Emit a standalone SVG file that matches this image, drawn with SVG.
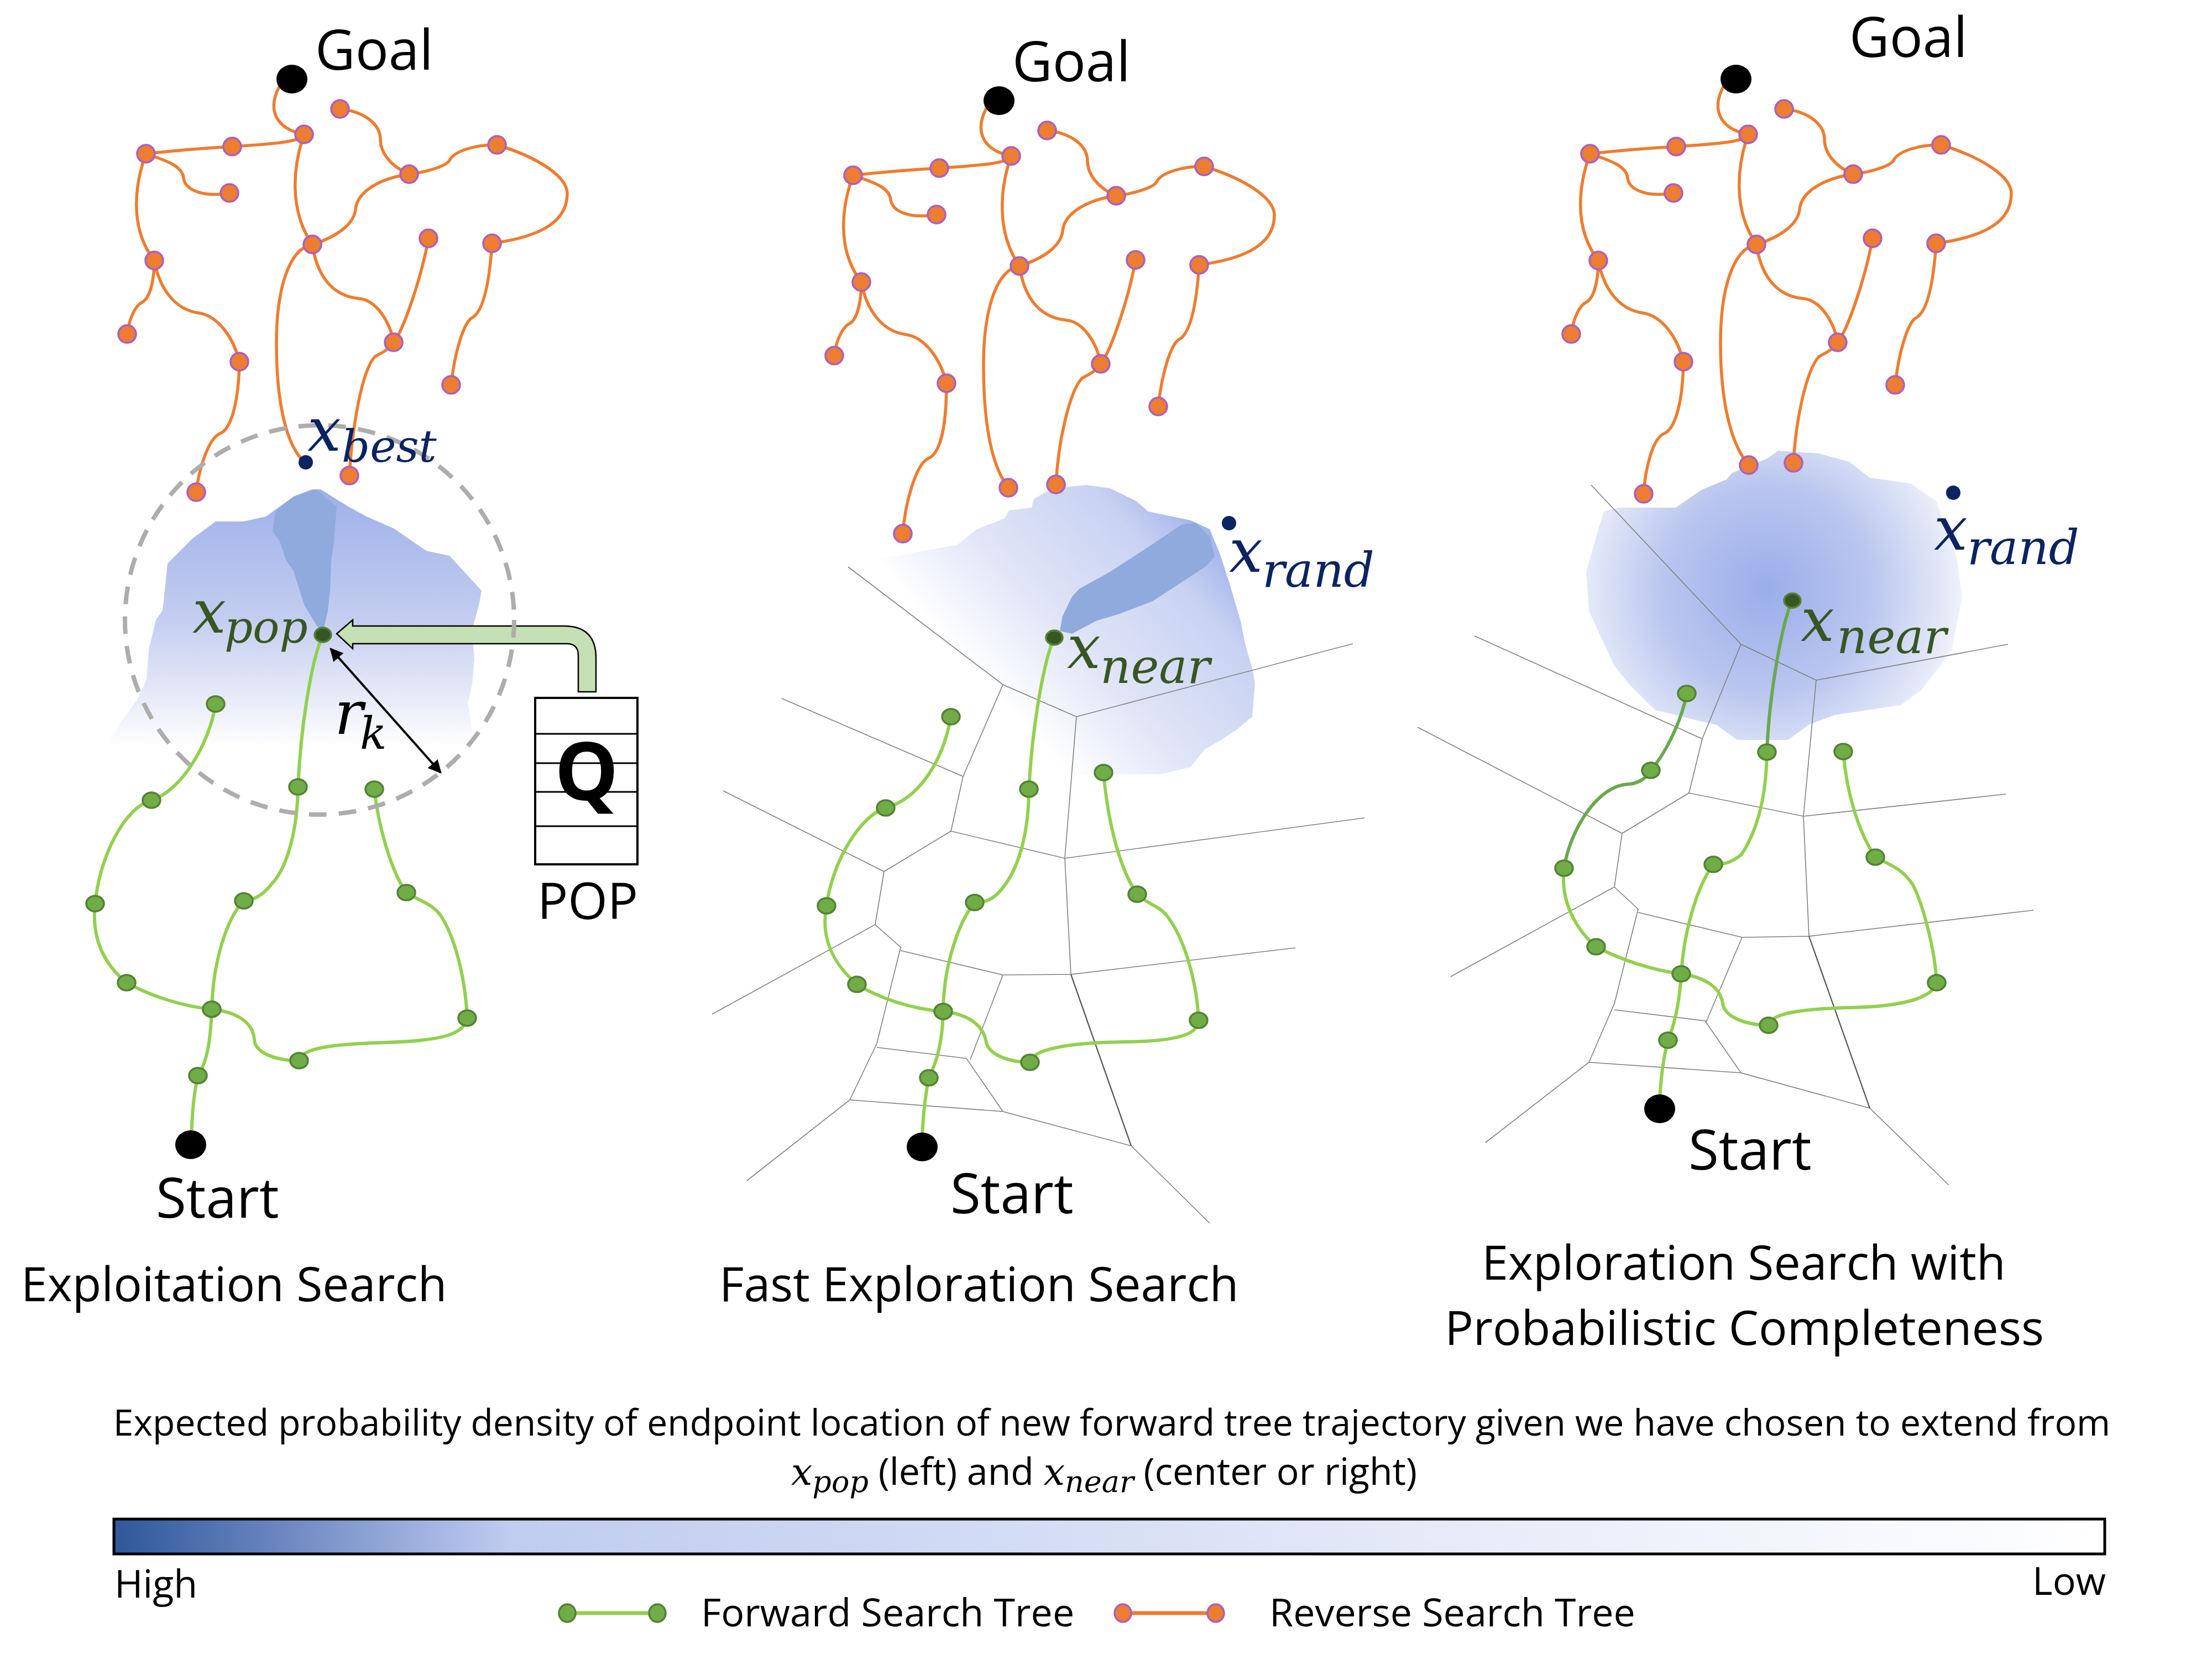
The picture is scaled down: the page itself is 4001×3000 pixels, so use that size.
<svg xmlns="http://www.w3.org/2000/svg" width="4001" height="3000" viewBox="0 0 4001 3000">
<defs>
<style>
.rev{fill:none;stroke:#ED7D31;stroke-width:5.5;stroke-linecap:round}
.rn{fill:#ED7D31;stroke:#A95FC2;stroke-width:3.5}
.fwd{fill:none;stroke:#92D050;stroke-width:6;stroke-linecap:round}
.fwd2{fill:none;stroke:#6AA84F;stroke-width:6;stroke-linecap:round}
.fn{fill:#70AD47;stroke:#548235;stroke-width:3.5}
.fd{fill:#375623;stroke:#548235;stroke-width:3.5}
.vor{fill:none;stroke:#808080;stroke-width:1.6}
.vord{fill:none;stroke:#505050;stroke-width:2.2}
.t{font-family:"Open Sans","Noto Sans",sans-serif;fill:#000}
.m{font-family:"DejaVu Serif",serif;font-style:italic}
.navy{fill:#0B2361}
.dg{fill:#375623}
</style>
<linearGradient id="gL" x1="0" y1="885" x2="0" y2="1350" gradientUnits="userSpaceOnUse">
<stop offset="0" stop-color="#9EB0EA"/><stop offset="0.5" stop-color="#C3CDF0"/><stop offset="0.8" stop-color="#E6EAF8"/><stop offset="1" stop-color="#FFFFFF"/>
</linearGradient>
<linearGradient id="gM" x1="1750" y1="1200" x2="2127" y2="859" gradientUnits="userSpaceOnUse">
<stop offset="0" stop-color="#FFFFFF"/><stop offset="0.34" stop-color="#E0E5F7"/><stop offset="0.75" stop-color="#C8D2F2"/><stop offset="0.97" stop-color="#A0B1EA"/><stop offset="1" stop-color="#9CAEEA"/>
</linearGradient>
<radialGradient id="gR" cx="3195" cy="1065" r="380" gradientUnits="userSpaceOnUse">
<stop offset="0" stop-color="#9AAEEA"/><stop offset="0.5" stop-color="#BAC6EF"/><stop offset="0.85" stop-color="#E4E9F8"/><stop offset="1" stop-color="#F8F9FE"/>
</radialGradient>
<linearGradient id="gBar" x1="204" y1="0" x2="3809" y2="0" gradientUnits="userSpaceOnUse">
<stop offset="0" stop-color="#2E579A"/><stop offset="0.08" stop-color="#6884BF"/><stop offset="0.17" stop-color="#AABBE6"/><stop offset="0.2" stop-color="#C0CCF0"/><stop offset="0.45" stop-color="#D3DCF5"/><stop offset="0.7" stop-color="#E9EDF9"/><stop offset="0.88" stop-color="#F6F8FD"/><stop offset="1" stop-color="#FFFFFF"/>
</linearGradient>
<marker id="ah" viewBox="0 0 10 10" refX="9" refY="5" markerWidth="6" markerHeight="6" orient="auto-start-reverse"><path d="M0,0 L10,5 L0,10 Z" fill="#000"/></marker>
<g id="revPaths">
<path class="rev" d="M505,157 C485,195 495,232 550,243"/>
<path class="rev" d="M550,243 C545,256 500,260 420,265 C350,269 300,274 264,278"/>
<path class="rev" d="M264,278 C300,290 330,300 332,322 C335,345 370,357 415,349"/>
<path class="rev" d="M264,278 C245,330 232,410 279,471"/>
<path class="rev" d="M279,471 C279,505 272,538 258,546 C245,552 234,575 230,604"/>
<path class="rev" d="M279,471 C288,520 315,560 360,566 C395,572 422,610 433,654"/>
<path class="rev" d="M550,243 C530,300 522,380 565,442"/>
<path class="rev" d="M565,442 C610,428 640,405 643,379 C646,345 690,322 740,315"/>
<path class="rev" d="M740,315 C705,300 688,275 688,252 C688,225 660,202 615,197"/>
<path class="rev" d="M740,315 C779,310 808,299 813,290 C821,273 862,261 899,262"/>
<path class="rev" d="M899,262 C975,285 1026,320 1026,350 C1026,400 980,428 890,440"/>
<path class="rev" d="M565,442 C572,490 595,535 650,540 C680,543 705,580 712,619"/>
<path class="rev" d="M712,619 C730,597 763,499 775,431"/>
<path class="rev" d="M890,440 C886,500 877,560 855,574 C838,582 822,640 816,696"/>
</g>
<g id="revNodes">
<ellipse cx="528" cy="143" rx="28" ry="26" fill="#000"/>
<circle class="rn" cx="615" cy="197" r="16"/>
<circle class="rn" cx="550" cy="243" r="16"/>
<circle class="rn" cx="420" cy="265" r="16"/>
<circle class="rn" cx="264" cy="278" r="16"/>
<circle class="rn" cx="415" cy="349" r="16"/>
<circle class="rn" cx="740" cy="315" r="16"/>
<circle class="rn" cx="899" cy="262" r="16"/>
<circle class="rn" cx="279" cy="471" r="16"/>
<circle class="rn" cx="565" cy="442" r="16"/>
<circle class="rn" cx="775" cy="431" r="16"/>
<circle class="rn" cx="890" cy="440" r="16"/>
<circle class="rn" cx="230" cy="604" r="16"/>
<circle class="rn" cx="433" cy="654" r="16"/>
<circle class="rn" cx="712" cy="619" r="16"/>
<circle class="rn" cx="816" cy="696" r="16"/>
</g>
</defs>
<rect width="4001" height="3000" fill="#fff"/>

<!-- LEFT PANEL -->
<g id="panel-left">
<path d="M564,885 L531,898 L481,934 L440,943 L390,943 L348,974 L303,1019 L299,1059 L294,1104 L282,1121 L269,1175 L265,1229 L249,1264 L216,1309 L190,1360 L860,1360 L846,1273 L854,1237 L858,1193 L854,1139 L866,1095 L871,1068 L813,1005 L771,996 L713,956 L663,934 L630,916 L580,885 Z" fill="url(#gL)"/>
<path d="M531,898 L498,925 L493,961 L506,979 L518,1014 L531,1032 L539,1059 L551,1095 L572,1130 L584,1144 L593,1104 L597,1068 L599,1014 L604,979 L609,916 L572,885 Z" fill="#8FAADC"/>
<g id="rev-left">
<use href="#revPaths"/>
<path class="rev" d="M433,654 C432,720 420,775 398,784 C378,792 360,845 355,890"/>
<path class="rev" d="M565,442 C520,450 500,530 500,620 C500,720 515,795 545,830"/>
<path class="rev" d="M712,619 C700,635 690,638 678,645 C655,670 637,770 632,860"/>
<use href="#revNodes"/>
<circle class="rn" cx="355" cy="890" r="16"/>
<circle class="rn" cx="632" cy="860" r="16"/>
</g>
<circle id="xbest" cx="553" cy="836" r="13" fill="#0B2361"/>
<g id="fwd-left">
<path class="fwd" d="M584,1148 C565,1190 545,1300 539,1423"/>
<path class="fwd" d="M539,1423 C538,1500 520,1570 490,1600 C475,1620 455,1629 441,1629"/>
<path class="fwd" d="M441,1629 C410,1660 385,1740 383,1825"/>
<path class="fwd" d="M383,1825 C381,1880 375,1920 358,1945"/>
<path class="fwd" d="M358,1945 C350,1980 347,2020 346,2060"/>
<path class="fwd" d="M383,1825 C330,1820 270,1800 229,1777"/>
<path class="fwd" d="M229,1777 C190,1745 165,1700 172,1634"/>
<path class="fwd" d="M172,1634 C180,1550 225,1460 274,1447"/>
<path class="fwd" d="M274,1447 C330,1430 380,1340 390,1273"/>
<path class="fwd" d="M383,1825 C430,1830 458,1850 460,1880 C462,1905 500,1918 541,1918"/>
<path class="fwd" d="M541,1918 C545,1895 600,1888 700,1885 C800,1882 840,1870 845,1841"/>
<path class="fwd" d="M845,1841 C843,1790 830,1710 800,1660 C785,1635 760,1630 735,1614"/>
<path class="fwd" d="M735,1614 C710,1580 685,1500 677,1427"/>
<ellipse class="fn" cx="390" cy="1273" rx="16" ry="14"/>
<ellipse class="fn" cx="274" cy="1447" rx="16" ry="14"/>
<ellipse class="fn" cx="539" cy="1423" rx="16" ry="14"/>
<ellipse class="fn" cx="677" cy="1427" rx="16" ry="14"/>
<ellipse class="fn" cx="172" cy="1634" rx="16" ry="14"/>
<ellipse class="fn" cx="441" cy="1629" rx="16" ry="14"/>
<ellipse class="fn" cx="735" cy="1614" rx="16" ry="14"/>
<ellipse class="fn" cx="229" cy="1777" rx="16" ry="14"/>
<ellipse class="fn" cx="383" cy="1825" rx="16" ry="14"/>
<ellipse class="fn" cx="845" cy="1841" rx="16" ry="14"/>
<ellipse class="fn" cx="541" cy="1918" rx="16" ry="14"/>
<ellipse class="fn" cx="358" cy="1945" rx="16" ry="14"/>
<ellipse class="fd" cx="584" cy="1148" rx="15" ry="13"/>
<ellipse cx="345" cy="2070" rx="28" ry="26" fill="#000"/>
</g>
<g id="queue">
<path d="M609,1146 L638,1121 L638,1132 L1020,1132 Q1078,1132 1078,1190 L1078,1251 L1046,1251 L1046,1185 Q1046,1164 1025,1164 L638,1164 L638,1173 Z" fill="#C5E0B4" stroke="#000" stroke-width="2.5"/>
<rect x="968" y="1262" width="185" height="301" fill="#fff" stroke="#000" stroke-width="4"/>
<path d="M968,1327 H1153 M968,1380 H1153 M968,1432 H1153 M968,1494 H1153" stroke="#000" stroke-width="3"/>
<text class="t" x="1061" y="1447" font-size="145" font-weight="bold" text-anchor="middle">Q</text>
<text class="t" x="1063" y="1662" font-size="92" text-anchor="middle">POP</text>
</g>
<circle cx="578" cy="1121" r="352" fill="none" stroke="#ADADAD" stroke-width="8" stroke-dasharray="32 22"/>
<line x1="598" y1="1173" x2="797" y2="1397" stroke="#000" stroke-width="4" marker-start="url(#ah)" marker-end="url(#ah)"/>
<text class="m" x="605" y="1327" font-size="108">r</text><text class="m" x="651" y="1354" font-size="80">k</text>
<text class="m navy" x="556" y="815" font-size="108">x</text><text class="m navy" x="618" y="835" font-size="80">best</text>
<text class="m dg" x="348" y="1144" font-size="108">x</text><text class="m dg" x="406" y="1162" font-size="80">pop</text>
<text class="t" x="570" y="126" font-size="100">Goal</text>
<text class="t" x="282" y="2202" font-size="100">Start</text>
<text class="t" x="38" y="2353" font-size="86">Exploitation Search</text>
</g>

<!-- MIDDLE PANEL -->
<g id="panel-middle">
<path d="M1870,902 L1904,883 L1965,877 L2008,883 L2055,906 L2077,925 L2154,941 L2188,957 L2206,1000 L2223,1052 L2231,1079 L2244,1123 L2253,1168 L2265,1208 L2270,1236 L2265,1296 L2240,1317 L2209,1338 L2179,1355 L2153,1387 L2100,1400 L1900,1400 L1600,1100 L1560,1015 L1612,1007 L1732,985 L1767,957 L1818,937 L1825,923 L1866,918 Z" fill="url(#gM)"/>
<path d="M1917,1141 L1922,1114 L1939,1079 L1952,1065 L2008,1034 L2077,989 L2137,949 L2163,945 L2188,971 L2197,1007 L2180,1025 L2085,1087 L2025,1110 L1982,1123 L1939,1146 Z" fill="#8FAADC"/>
<g id="voronoi-middle">
<path class="vor" d="M1534,1025 L1814,1238 L1947,1296 L2447,1164 M1814,1238 L1742,1404 L1720,1503 L1926,1552 L2468,1479 M1414,1263 L1742,1404 M1947,1296 L1926,1552 L1937,1762 L2343,1714 M1308,1430 L1599,1576 L1720,1503 M1599,1576 L1583,1672 L1288,1834 M1583,1672 L1629,1713 L1586,1887 L1537,1989 L1351,2135 M1629,1719 L1814,1763 L1937,1762 M1814,1763 L1755,1916 M1586,1894 L1748,1914 L1814,2010 L2046,2072 L2188,2212 M1537,1989 L1814,2010"/>
<path class="vord" d="M1937,1762 L2046,2072"/>
</g>
<g id="rev-middle" transform="translate(1279,39)">
<use href="#revPaths"/>
<path class="rev" d="M433,654 C433,720 425,780 400,790 C378,800 358,870 354,926"/>
<path class="rev" d="M565,442 C520,450 500,530 500,620 C500,730 515,805 545,843"/>
<path class="rev" d="M712,619 C700,635 690,638 678,645 C655,670 635,760 631,837"/>
<use href="#revNodes"/>
<circle class="rn" cx="354" cy="926" r="16"/>
<circle class="rn" cx="545" cy="843" r="16"/>
<circle class="rn" cx="631" cy="837" r="16"/>
</g>
<circle id="xrand-m" cx="2223" cy="946" r="13" fill="#0B2361"/>
<g id="fwd-middle">
<path class="fwd" d="M1907,1153 C1890,1190 1868,1300 1861,1427"/>
<path class="fwd" d="M1861,1427 C1861,1500 1845,1570 1810,1610 C1795,1628 1780,1632 1763,1632"/>
<path class="fwd" d="M1763,1632 C1733,1668 1706,1750 1706,1829"/>
<path class="fwd" d="M1706,1829 C1705,1880 1695,1920 1680,1949"/>
<path class="fwd" d="M1680,1949 C1673,1985 1669,2020 1668,2060"/>
<path class="fwd" d="M1706,1829 C1650,1825 1590,1805 1550,1780"/>
<path class="fwd" d="M1550,1780 C1510,1745 1483,1700 1495,1638"/>
<path class="fwd" d="M1495,1638 C1505,1560 1555,1475 1602,1461"/>
<path class="fwd" d="M1602,1461 C1660,1445 1705,1380 1720,1296"/>
<path class="fwd" d="M1706,1829 C1760,1835 1780,1860 1784,1885 C1790,1910 1830,1921 1863,1921"/>
<path class="fwd" d="M1863,1921 C1866,1898 1930,1885 2040,1884 C2150,1882 2165,1865 2168,1845"/>
<path class="fwd" d="M2168,1845 C2165,1780 2145,1700 2110,1655 C2095,1637 2075,1635 2057,1617"/>
<path class="fwd" d="M2057,1617 C2030,1580 2005,1500 1996,1397"/>
<ellipse class="fn" cx="1720" cy="1296" rx="16" ry="14"/>
<ellipse class="fn" cx="1602" cy="1461" rx="16" ry="14"/>
<ellipse class="fn" cx="1861" cy="1427" rx="16" ry="14"/>
<ellipse class="fn" cx="1996" cy="1397" rx="16" ry="14"/>
<ellipse class="fn" cx="1495" cy="1638" rx="16" ry="14"/>
<ellipse class="fn" cx="1763" cy="1632" rx="16" ry="14"/>
<ellipse class="fn" cx="2057" cy="1617" rx="16" ry="14"/>
<ellipse class="fn" cx="1550" cy="1780" rx="16" ry="14"/>
<ellipse class="fn" cx="1706" cy="1829" rx="16" ry="14"/>
<ellipse class="fn" cx="2168" cy="1845" rx="16" ry="14"/>
<ellipse class="fn" cx="1863" cy="1921" rx="16" ry="14"/>
<ellipse class="fn" cx="1680" cy="1949" rx="16" ry="14"/>
<ellipse class="fd" cx="1907" cy="1153" rx="15" ry="13"/>
<ellipse cx="1668" cy="2074" rx="28" ry="26" fill="#000"/>
</g>
<text class="m navy" x="2223" y="1034" font-size="108">x</text><text class="m navy" x="2283" y="1061" font-size="86">rand</text>
<text class="m dg" x="1930" y="1208" font-size="108">x</text><text class="m dg" x="1990" y="1235" font-size="86">near</text>
<text class="t" x="1831" y="147" font-size="100">Goal</text>
<text class="t" x="1719" y="2194" font-size="100">Start</text>
<text class="t" x="1301" y="2353" font-size="86">Fast Exploration Search</text>
</g>

<!-- RIGHT PANEL -->
<g id="panel-right">
<path d="M3216,815 L3290,820 L3345,835 L3382,864 L3456,874 L3502,906 L3539,1007 L3549,1079 L3530,1177 L3475,1248 L3438,1275 L3318,1293 L3271,1311 L3234,1338 L3142,1338 L3105,1311 L2994,1284 L2948,1239 L2920,1204 L2874,1105 L2869,1034 L2892,954 L2901,925 L2929,918 L3031,918 L3077,886 L3123,867 L3133,855 L3197,829 Z" fill="url(#gR)"/>
<g id="voronoi-right">
<path class="vor" d="M2878,877 L3149,1165 L3285,1230 L3632,1165 M3149,1165 L3079,1336 L3055,1434 L3262,1476 L3628,1436 M2667,1150 L3079,1336 M3285,1230 L3262,1476 L3272,1693 L3678,1646 M2564,1315 L2934,1507 L3055,1434 M2934,1507 L2920,1604 L2624,1766 M2920,1604 L2963,1644 L2920,1815 L2874,1921 L2687,2066 M2963,1650 L3151,1695 L3272,1693 M3151,1695 L3086,1848 M2920,1826 L3084,1846 L3149,1940 L3382,2004 L3525,2143 M2874,1921 L3149,1940"/>
<path class="vord" d="M3272,1693 L3382,2004"/>
</g>
<g id="rev-right" transform="translate(2612,0)">
<use href="#revPaths"/>
<path class="rev" d="M433,654 C432,720 420,775 398,784 C378,792 364,845 361,893"/>
<path class="rev" d="M565,442 C520,450 500,530 500,620 C500,730 520,805 551,841"/>
<path class="rev" d="M712,619 C700,635 690,638 678,645 C655,670 636,760 632,837"/>
<use href="#revNodes"/>
<circle class="rn" cx="361" cy="893" r="16"/>
<circle class="rn" cx="551" cy="841" r="16"/>
<circle class="rn" cx="632" cy="837" r="16"/>
</g>
<circle id="xrand-r" cx="3533" cy="891" r="13" fill="#0B2361"/>
<g id="fwd-right">
<path class="fwd2" d="M3242,1086 C3225,1120 3200,1250 3196,1360"/>
<path class="fwd" d="M3196,1360 C3195,1437 3180,1500 3150,1545 C3130,1562 3115,1563 3099,1563"/>
<path class="fwd" d="M3099,1563 C3068,1605 3045,1690 3041,1761"/>
<path class="fwd" d="M3041,1761 C3038,1810 3030,1850 3017,1881"/>
<path class="fwd" d="M3017,1881 C3008,1915 3004,1950 3002,1990"/>
<path class="fwd" d="M3041,1761 C2990,1755 2930,1735 2887,1712"/>
<path class="fwd" d="M2887,1712 C2850,1680 2822,1630 2829,1570"/>
<path class="fwd2" d="M2829,1570 C2840,1500 2890,1420 2945,1418 C2965,1417 2980,1405 2986,1393"/>
<path class="fwd2" d="M2986,1393 C3010,1365 3040,1310 3051,1254"/>
<path class="fwd" d="M3041,1761 C3090,1768 3113,1790 3116,1815 C3120,1840 3160,1854 3199,1854"/>
<path class="fwd" d="M3199,1854 C3202,1832 3260,1824 3350,1822 C3440,1820 3495,1805 3503,1777"/>
<path class="fwd" d="M3503,1777 C3500,1720 3480,1640 3460,1600 C3440,1570 3420,1565 3392,1550"/>
<path class="fwd" d="M3392,1550 C3365,1510 3340,1440 3334,1359"/>
<ellipse class="fn" cx="3051" cy="1254" rx="16" ry="14"/>
<ellipse class="fn" cx="2986" cy="1393" rx="16" ry="14"/>
<ellipse class="fn" cx="3196" cy="1360" rx="16" ry="14"/>
<ellipse class="fn" cx="3334" cy="1359" rx="16" ry="14"/>
<ellipse class="fn" cx="2829" cy="1570" rx="16" ry="14"/>
<ellipse class="fn" cx="3099" cy="1563" rx="16" ry="14"/>
<ellipse class="fn" cx="3392" cy="1550" rx="16" ry="14"/>
<ellipse class="fn" cx="2887" cy="1712" rx="16" ry="14"/>
<ellipse class="fn" cx="3041" cy="1761" rx="16" ry="14"/>
<ellipse class="fn" cx="3503" cy="1777" rx="16" ry="14"/>
<ellipse class="fn" cx="3199" cy="1854" rx="16" ry="14"/>
<ellipse class="fn" cx="3017" cy="1881" rx="16" ry="14"/>
<ellipse class="fd" cx="3242" cy="1086" rx="15" ry="13"/>
<ellipse cx="3002" cy="2005" rx="28" ry="26" fill="#000"/>
</g>
<text class="m navy" x="3498" y="994" font-size="108">x</text><text class="m navy" x="3558" y="1020" font-size="86">rand</text>
<text class="m dg" x="3257" y="1159" font-size="108">x</text><text class="m dg" x="3322" y="1181" font-size="86">near</text>
<text class="t" x="3345" y="103" font-size="100">Goal</text>
<text class="t" x="3054" y="2115" font-size="100">Start</text>
<text class="t" x="3154" y="2314" font-size="86" text-anchor="middle">Exploration Search with</text>
<text class="t" x="3155" y="2432" font-size="86" text-anchor="middle">Probabilistic Completeness</text>
</g>

<!-- LEGEND / COLORBAR -->
<g id="legend">
<text class="t" x="2011" y="2596" font-size="66" text-anchor="middle">Expected probability density of endpoint location of new forward tree trajectory given we have chosen to extend from</text>
<text class="t" x="1997" y="2685" font-size="68" text-anchor="middle"><tspan class="m">x</tspan><tspan class="m" font-size="54" dy="13">pop</tspan><tspan dy="-13"> (left) and </tspan><tspan class="m">x</tspan><tspan class="m" font-size="54" dy="13">near</tspan><tspan dy="-13"> (center or right)</tspan></text>
<rect x="206" y="2747" width="3601" height="63" fill="url(#gBar)" stroke="#000" stroke-width="5"/>
<text class="t" x="207" y="2889" font-size="70">High</text>
<text class="t" x="3809" y="2884" font-size="70" text-anchor="end">Low</text>
<line x1="1026" y1="2917" x2="1189" y2="2917" stroke="#92D050" stroke-width="7"/>
<ellipse class="fn" cx="1026" cy="2917" rx="15" ry="16"/>
<ellipse class="fn" cx="1189" cy="2917" rx="15" ry="16"/>
<text class="t" x="1268" y="2941" font-size="70">Forward Search Tree</text>
<line x1="2031" y1="2917" x2="2199" y2="2917" stroke="#ED7D31" stroke-width="7"/>
<ellipse class="rn" cx="2031" cy="2917" rx="15" ry="16"/>
<ellipse class="rn" cx="2199" cy="2917" rx="15" ry="16"/>
<text class="t" x="2296" y="2941" font-size="70">Reverse Search Tree</text>
</g>
</svg>
